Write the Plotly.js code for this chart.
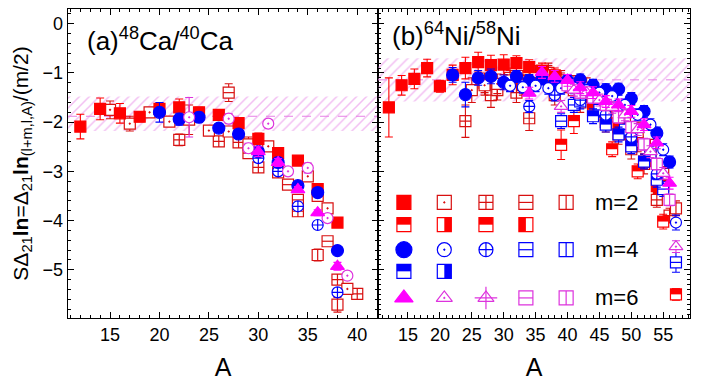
<!DOCTYPE html>
<html><head><meta charset="utf-8">
<script src="https://cdn.plot.ly/plotly-3.0.1.min.js"></script>
<style>html,body{margin:0;padding:0;background:#fff}</style>
</head><body><div id="chart" style="width:711px;height:385px"></div>
<script>
// ---------- Panel (a) 48Ca/40Ca ----------
const caA_sq=[12,14,16,18,20,22,24,26,28,30,32,34,36,38];
const caV_sq=[-2.09,-1.73,-1.82,-1.89,-1.73,-1.70,-1.80,-1.85,-2.02,-2.34,-2.63,-2.78,-3.36,-4.04];
const caE_sq=[0.25,0.22,0.2,0.1,0.12,0.17,0.1,0.1,0.1,0.12,0.08,0.06,0.08,0.08];
const caA_dot=[15,17,19,21,23,25,27,29,31,35,37,39];
const caV_dot=[-1.75,-2.03,-1.80,-1.99,-1.95,-2.17,-2.19,-2.45,-2.49,-3.10,-3.75,-5.39];
const caE_dot=[0.18,0.15,0.08,0.06,0.3,0.06,0.06,0.15,0.05,0.05,0.05,0.05];
const caA_crs=[22,26,28,30,32,34,38,40];
const caV_crs=[-2.36,-2.39,-2.41,-2.92,-3.02,-3.81,-5.20,-5.49];
const caE_crs=[0.12,0.06,0.06,0.08,0.06,0.1,0.06,0.06];
const caA_hl=[27,29,33,34,36,37];
const caV_hl=[-1.40,-2.63,-3.27,-3.58,-3.50,-4.42];
const caE_hl=[0.18,0.1,0.05,0.06,0.05,0.05];
const caA_vl=[36,38];
const caV_vl=[-4.70,-5.71];
const caE_vl=[0.12,0.15];
const caA_bc=[20,22,24,26,28,30,32,34,36,38];
const caV_bc=[-1.80,-1.94,-1.90,-2.12,-2.24,-2.60,-2.82,-3.29,-3.43,-4.61];
const caE_bc=[0.2,0.12,0.1,0.05,0.05,0.08,0.05,0.05,0.05,0.05];
const caA_bx=[30,32,34,36,38];
const caV_bx=[-2.73,-3.00,-3.71,-4.09,-5.46];
const caE_bx=[0.05,0.05,0.08,0.05,0.06];
const caA_mt=[30,32,34,36,38];
const caV_mt=[-2.60,-2.82,-3.37,-3.84,-4.93];
const caE_mt=[0.1,0.08,0.06,0.06,0.08];
const caA_mc=[23,27,29,31,33,35,37,39];
const caV_mc=[-1.90,-1.93,-2.53,-2.03,-3.00,-2.93,-3.95,-5.12];
const caE_mc=[0.4,0.1,0.1,0.08,0.06,0.1,0.05,0.05];
const caBand=[-1.48,-2.18];
const caBandMid=-1.88;

// ---------- Panel (b) 64Ni/58Ni ----------
const niA_sq=[12,14,16,18,20,22,24,26,28,30,32,34,36,38,40,42,44,46,48,50,52,54];
const niV_sq=[-1.70,-1.25,-1.12,-0.90,-1.27,-1.04,-0.90,-0.78,-0.84,-0.83,-0.80,-0.88,-0.95,-1.05,-1.25,-1.45,-1.62,-1.85,-2.10,-2.40,-2.80,-3.30];
const niE_sq=[0.6,0.2,0.2,0.18,0.12,0.2,0.22,0.2,0.2,0.2,0.15,0.15,0.15,0.15,0.15,0.15,0.15,0.15,0.15,0.15,0.15,0.15];
const niA_half=[39,41,47,51,55,57];
const niV_half=[-2.46,-1.98,-2.55,-3.00,-4.02,-5.50];
const niE_half=[0.3,0.25,0.15,0.15,0.15,0.12];
const niA_dot=[25,27,29,31,33,35,37,39,41,43,45,47,49,51,53,55];
const niV_dot=[-1.35,-1.25,-1.22,-1.15,-1.25,-1.10,-1.05,-1.20,-1.35,-1.30,-1.50,-1.65,-1.90,-2.20,-2.55,-3.05];
const niE_dot=[0.25,0.2,0.2,0.2,0.2,0.2,0.2,0.2,0.2,0.2,0.2,0.2,0.2,0.2,0.2,0.15];
const niA_crs=[24,28,32,34,38,42,44,46,48,50,52,54,56];
const niV_crs=[-1.98,-1.45,-1.40,-1.92,-1.45,-1.60,-1.75,-2.00,-2.25,-2.55,-2.85,-3.58,-3.90];
const niE_crs=[0.33,0.25,0.2,0.25,0.2,0.2,0.2,0.2,0.2,0.2,0.2,0.15,0.15];
const niA_hl=[27,31,35,39,43,47,51,55];
const niV_hl=[-1.20,-1.10,-1.05,-1.15,-1.40,-1.80,-2.40,-3.30];
const niE_hl=[0.2,0.2,0.2,0.2,0.2,0.2,0.2,0.15];
const niA_vl=[29,33,37,41,45,49,53,57];
const niV_vl=[-1.35,-1.15,-1.00,-1.25,-1.60,-2.15,-2.70,-3.75];
const niE_vl=[0.2,0.2,0.2,0.2,0.2,0.2,0.2,0.15];
const niA_bc=[22,24,26,28,30,32,34,36,38,40,42,44,46,48,50,52,54,56];
const niV_bc=[-1.04,-1.44,-1.10,-1.07,-1.19,-1.07,-1.15,-1.12,-1.20,-1.15,-1.14,-1.25,-1.34,-1.33,-1.52,-1.78,-2.22,-2.81];
const niE_bc=[0.15,0.25,0.15,0.15,0.15,0.12,0.12,0.12,0.12,0.12,0.12,0.12,0.12,0.12,0.12,0.12,0.12,0.12];
const niA_bdot=[31,33,35,37,39,41,43,45,47,49,51,53,55,57];
const niV_bdot=[-1.26,-1.29,-1.26,-1.31,-1.31,-1.30,-1.35,-1.40,-1.47,-1.65,-1.85,-2.05,-2.56,-4.04];
const niE_bdot=[0.12,0.12,0.12,0.12,0.12,0.12,0.12,0.12,0.12,0.12,0.12,0.12,0.12,0.15];
const niA_bx=[34,38,42,46,50,54];
const niV_bx=[-1.68,-1.45,-1.55,-1.85,-2.30,-3.05];
const niE_bx=[0.12,0.12,0.12,0.12,0.12,0.12];
const niA_bhl=[39,41,45,49,53,55,57];
const niV_bhl=[-1.98,-1.65,-1.75,-2.15,-2.65,-3.36,-4.85];
const niE_bhl=[0.15,0.15,0.15,0.15,0.15,0.15,0.2];
const niA_bhalf=[42,44,46,48,50,52,54];
const niV_bhalf=[-1.58,-1.88,-2.05,-2.25,-2.49,-2.80,-3.17];
const niE_bhalf=[0.15,0.15,0.15,0.15,0.15,0.15,0.15];
const niA_mt=[34,36,38,40,42,44,46,48,50,52,54,56];
const niV_mt=[-1.41,-0.99,-1.07,-1.15,-1.30,-1.40,-1.58,-1.65,-1.78,-2.05,-2.42,-3.24];
const niE_mt=[0.12,0.12,0.12,0.12,0.12,0.12,0.12,0.12,0.12,0.12,0.12,0.12];
const niA_mtd=[39,41,43,45,47,49,51,53,55,57];
const niV_mtd=[-1.68,-1.35,-1.40,-1.55,-1.70,-1.85,-2.15,-2.60,-3.04,-4.53];
const niE_mtd=[0.12,0.12,0.12,0.12,0.12,0.12,0.12,0.12,0.12,0.12];
const niA_mvl=[40,42,44,46,48,50,52,54,56];
const niV_mvl=[-1.25,-1.40,-1.50,-1.65,-1.90,-2.10,-2.45,-2.85,-3.58];
const niE_mvl=[0.12,0.12,0.12,0.12,0.12,0.12,0.12,0.12,0.12];
const niBand=[-0.70,-1.58];
const niBandMid=-1.14;

// legend
const legendLabels=['m=2','m=4','m=6'];

// ---------- styling ----------
const RED='#ff0000', DRED='#d81010', BLUE='#0000ff', MAG='#ff00ff', DMAG='#dd33dd';
const FONT='Arial, "Liberation Sans", sans-serif';
const split=0.4984;
const xr1=[10.75,42.1], xr2=[10.3,59.2], yr=[-5.98,0.3];

function mk(kind,color,size,xa,ya,A,V,E){
  const base={type:'scatter',mode:'markers',x:A,y:V,xaxis:xa,yaxis:ya,showlegend:false,hoverinfo:'skip',
    marker:{size:size,color:'#ffffff',line:{color:color,width:1.2}}};
  if(E) base.error_y={type:'data',array:E,visible:true,color:color,thickness:1.1,width:4};
  const out=[base];
  const ov=(sym,sz,w,extra)=>out.push({type:'scatter',mode:'markers',x:A,y:V,xaxis:xa,yaxis:ya,showlegend:false,hoverinfo:'skip',
    marker:Object.assign({symbol:sym,size:sz,color:color,line:{color:color,width:w}},extra||{})});
  switch(kind){
    case 'sq': base.marker.symbol='square'; base.marker.color=color; break;
    case 'circ': base.marker.symbol='circle'; base.marker.color=color; break;
    case 'tri': base.marker.symbol='triangle-up'; base.marker.color=color; break;
    case 'sqdot': base.marker.symbol='square-dot'; break;
    case 'sqx': base.marker.symbol='square-cross'; break;
    case 'circdot': base.marker.symbol='circle-dot'; break;
    case 'circx': base.marker.symbol='circle-cross'; break;
    case 'tridot': base.marker.symbol='triangle-up-dot'; break;
    case 'trix': base.marker.symbol='triangle-up'; ov('cross-thin-open',size*1.15,1.2); break;
    case 'sqh': base.marker.symbol='square'; ov('line-ew',size/1.4,1.2); break;
    case 'sqv': base.marker.symbol='square'; ov('line-ns',size/1.4,1.2); break;
    case 'htop': base.marker.symbol='square'; ov('line-ew',size/1.4,size/2,{angle:180,standoff:size/4}); break;
    case 'hbot': base.marker.symbol='square'; ov('line-ew',size/1.4,size/2,{angle:0,standoff:size/4}); break;
    case 'hleft': base.marker.symbol='square'; ov('line-ew',size/1.4,size/2,{angle:90,standoff:size/4}); break;
    case 'hright': base.marker.symbol='square'; ov('line-ew',size/1.4,size/2,{angle:270,standoff:size/4}); break;
  }
  return out;
}

function band(xa,ya,xr,b,mid){
  return [
    {type:'scatter',mode:'lines',x:[xr[0],xr[1],xr[1],xr[0],xr[0]],y:[b[0],b[0],b[1],b[1],b[0]],xaxis:xa,yaxis:ya,
     fill:'toself',fillcolor:'rgba(0,0,0,0)',line:{width:0,color:'rgba(0,0,0,0)'},
     fillpattern:{shape:'/',fgcolor:'#e680e6',bgcolor:'rgba(0,0,0,0)',size:7,solidity:0.22,fillmode:'overlay'},
     showlegend:false,hoverinfo:'skip'},
    {type:'scatter',mode:'lines',x:xr,y:[mid,mid],xaxis:xa,yaxis:ya,line:{color:'#e680e6',width:1,dash:'dash'},showlegend:false,hoverinfo:'skip'}
  ];
}

const S=11;
let traces=[];
traces=traces.concat(band('x','y',xr1,caBand,caBandMid));
traces=traces.concat(band('x2','y2',xr2,niBand,niBandMid));
// panel a
traces=traces.concat(
  mk('sqx',DRED,S,'x','y',caA_crs,caV_crs,caE_crs),
  mk('sqh',DRED,S,'x','y',caA_hl,caV_hl,caE_hl),
  mk('sqv',DRED,S,'x','y',caA_vl,caV_vl,caE_vl),
  mk('sqdot',DRED,S,'x','y',caA_dot,caV_dot,caE_dot),
  mk('sq',RED,S,'x','y',caA_sq,caV_sq,caE_sq),
  mk('circx',BLUE,S,'x','y',caA_bx,caV_bx,caE_bx),
  mk('circ',BLUE,S+1,'x','y',caA_bc,caV_bc,caE_bc),
  mk('circdot',DMAG,S,'x','y',caA_mc,caV_mc,caE_mc),
  mk('tri',MAG,S+1,'x','y',caA_mt,caV_mt,caE_mt)
);
// panel b
traces=traces.concat(
  mk('sqx',DRED,S,'x2','y2',niA_crs,niV_crs,niE_crs),
  mk('sqh',DRED,S,'x2','y2',niA_hl,niV_hl,niE_hl),
  mk('sqv',DRED,S,'x2','y2',niA_vl,niV_vl,niE_vl),
  mk('sqdot',DRED,S,'x2','y2',niA_dot,niV_dot,niE_dot),
  mk('sq',RED,S,'x2','y2',niA_sq,niV_sq,niE_sq),
  mk('htop',RED,S,'x2','y2',niA_half,niV_half,niE_half),
  mk('sqh',BLUE,S,'x2','y2',niA_bhl,niV_bhl,niE_bhl),
  mk('htop',BLUE,S,'x2','y2',niA_bhalf,niV_bhalf,niE_bhalf),
  mk('circx',BLUE,S,'x2','y2',niA_bx,niV_bx,niE_bx),
  mk('circ',BLUE,S+1,'x2','y2',niA_bc,niV_bc,niE_bc),
  mk('circdot',BLUE,S,'x2','y2',niA_bdot,niV_bdot,niE_bdot),
  mk('sqv',DMAG,S,'x2','y2',niA_mvl,niV_mvl,niE_mvl),
  mk('tridot',DMAG,S+1,'x2','y2',niA_mtd,niV_mtd,niE_mtd),
  mk('tri',MAG,S+1,'x2','y2',niA_mt,niV_mt,niE_mt)
);
// legend grid (layout positions, fractions of panel b)
const legCols=[0.083,0.2125,0.346,0.474,0.603];
const legRows=[0.374,0.302,0.221,0.151,0.065];
const legItems=[
  [['sq',RED],['sqdot',DRED],['sqx',DRED],['sqh',DRED],['sqv',DRED]],
  [['htop',RED],['hright',RED],['htop',RED],['hleft',RED]],
  [['circ',BLUE],['circdot',BLUE],['circx',BLUE],['sqh',BLUE],['sqv',BLUE]],
  [['htop',BLUE],['hright',BLUE]],
  [['tri',MAG],['tridot',DMAG],['trix',DMAG],['sqh',DMAG],['sqv',DMAG]]
];
legItems.forEach((row,r)=>row.forEach((it,c)=>{
  const sz=(it[0]==='circ'||it[0]==='tri')?16:14;
  traces=traces.concat(mk(it[0],it[1],sz,'x3','y3',[legCols[c]],[legRows[r]],null));
}));

const axBase={showline:true,linecolor:'#000',linewidth:1.3,mirror:'ticks',ticks:'inside',ticklen:6,tickwidth:1,tickcolor:'#000',
  showgrid:false,zeroline:false,tickfont:{family:FONT,size:18,color:'#000'}};
const layout={
  width:711,height:385,margin:{l:68,r:21,t:9,b:67},paper_bgcolor:'#fff',plot_bgcolor:'#fff',showlegend:false,
  xaxis:Object.assign({},axBase,{domain:[0,split],range:xr1,anchor:'y',dtick:5,tick0:0,
    minor:{dtick:1,ticks:'inside',ticklen:3,tickcolor:'#000'},
    title:{text:'A',font:{family:FONT,size:25,color:'#000'},standoff:14}}),
  yaxis:Object.assign({},axBase,{domain:[0,1],range:yr,anchor:'x',dtick:1,tick0:0,
    minor:{dtick:0.2,ticks:'inside',ticklen:3,tickcolor:'#000'},
    title:{text:'SΔ<sub>21</sub><b>ln</b>=Δ<sub>21</sub><b>ln</b><sub>(l+m,l,A)</sub>/(m/2)',font:{family:FONT,size:21,color:'#000'},standoff:8}}),
  xaxis2:Object.assign({},axBase,{domain:[split,1],range:xr2,anchor:'y2',dtick:5,tick0:0,
    minor:{dtick:1,ticks:'inside',ticklen:3,tickcolor:'#000'},
    title:{text:'A',font:{family:FONT,size:25,color:'#000'},standoff:14}}),
  yaxis2:Object.assign({},axBase,{domain:[0,1],range:yr,anchor:'x2',dtick:1,tick0:0,showticklabels:false,
    minor:{dtick:0.1,ticks:'inside',ticklen:3,tickcolor:'#000'}}),
  xaxis3:{overlaying:'x2',range:[0,1],visible:false,anchor:'y3',fixedrange:true},
  yaxis3:{overlaying:'y2',range:[0,1],visible:false,anchor:'x3',fixedrange:true},
  annotations:[
    {xref:'paper',yref:'paper',x:0.027,y:0.90,xanchor:'left',yanchor:'middle',showarrow:false,
     text:'(a)<sup>48</sup>Ca/<sup>40</sup>Ca',font:{family:FONT,size:26,color:'#000'}},
    {xref:'paper',yref:'paper',x:0.518,y:0.917,xanchor:'left',yanchor:'middle',showarrow:false,
     text:'(b)<sup>64</sup>Ni/<sup>58</sup>Ni',font:{family:FONT,size:26,color:'#000'}}
  ].concat(legendLabels.map((t,i)=>({xref:'x3',yref:'y3',x:0.69,y:legRows[i*2],xanchor:'left',yanchor:'middle',showarrow:false,
     text:t,font:{family:FONT,size:22,color:'#000'}})))
};
Plotly.newPlot('chart',traces,layout,{displayModeBar:false,staticPlot:true});
</script></body></html>
